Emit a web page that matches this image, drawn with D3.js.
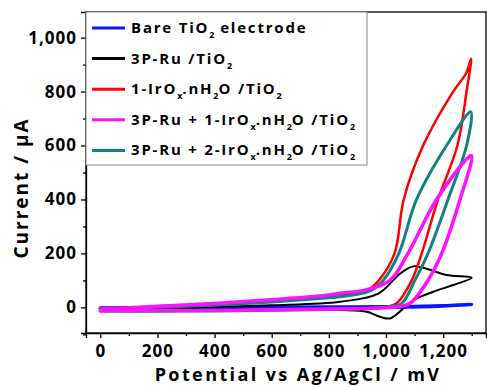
<!DOCTYPE html>
<html>
<head>
<meta charset="utf-8">
<script src="https://cdn.jsdelivr.net/npm/d3@7"></script>
<style>
  body { margin: 0; background: #fff; }
  text { font-family: "Open Sans", sans-serif; font-weight: bold; }
</style>
</head>
<body>
<div id="chart"></div>
<script>
// cyclic voltammograms: [potential mV, current uA], forward scan then reverse
var bare = [[0,-2],[200,-1],[400,0],[600,0],[800,1],[1000,2],[1100,3],[1200,6],[1300,11],
  [1200,5],[1000,0],[800,-1],[600,-2],[400,-3],[200,-3],[0,-3]];
var ru = [[0,-5],[200,-3],[400,2],[600,8],[840,21],[973,51],[1049,125],[1095,152],[1142,143],
  [1212,120],[1300,110],
  [1236,83],[1166,58],[1096,27],[1061,-4],[1014,-41],[979,-35],[933,-16],[840,-10],
  [600,-9],[400,-8],[200,-8],[0,-8]];
var irox1 = [[0,-12],[200,-12],[400,-11],[600,-9],[800,-6],[950,-3],[1000,2],[1037,15],[1090,100],
  [1125,200],[1182,400],[1250,600],[1282,800],[1298,922],
  [1280,867],[1235,800],[1130,600],[1062,400],[1030,200],[975,100],[935,63],[880,50],
  [800,42],[600,25],[400,12],[200,2],[0,-6]];
var ruIrox2 = [[0,-14],[200,-14],[400,-13],[600,-11],[800,-8],[950,-4],[1010,2],[1055,15],[1101,100],
  [1147,200],[1217,400],[1282,600],[1297,725],
  [1212,600],[1107,400],[1045,200],[990,100],[942,60],[840,39],[800,36],
  [600,20],[400,8],[200,0],[0,-8]];
var ruIrox1 = [[0,-12],[200,-12],[400,-11],[600,-9],[800,-6],[950,-3],[1040,2],[1084,15],[1147,100],
  [1195,200],[1259,400],[1299,563],
  [1177,400],[1077,200],[1014,100],[930,65],[840,52],[800,46],
  [600,28],[400,14],[200,4],[0,-6]];

var xTicks = [0, 200, 400, 600, 800, 1000, 1200];
var yTicks = [0, 200, 400, 600, 800, 1000];

// legend labels, split into [text, isSubscript] parts
var labels = [
  [["Bare TiO",0],["2",1],[" electrode",0]],
  [["3P-Ru /TiO",0],["2",1]],
  [["1-IrO",0],["x",1],[".nH",0],["2",1],["O /TiO",0],["2",1]],
  [["3P-Ru + 1-IrO",0],["x",1],[".nH",0],["2",1],["O /TiO",0],["2",1]],
  [["3P-Ru + 2-IrO",0],["x",1],[".nH",0],["2",1],["O /TiO",0],["2",1]]
];
var legendColors = ["#0a14ff", "#000000", "#ff0000", "#ff10ff", "#118282"];

var series = [
  {data: bare, color: "#0a14ff", w: 3.5},
  {data: ru, color: "#000000", w: 2},
  {data: irox1, color: "#ff0000", w: 2.5},
  {data: ruIrox2, color: "#118282", w: 3},
  {data: ruIrox1, color: "#ff10ff", w: 3.5}
];

var W = 487, H = 387;
var m = {left: 86, right: 486, top: 12, bottom: 333};

var x = d3.scaleLinear().domain([-50, 1350]).range([m.left, m.right]);
var y = d3.scaleLinear().domain([-95, 1095]).range([m.bottom, m.top]);

var svg = d3.select("#chart").append("svg")
    .attr("width", W)
    .attr("height", H);

var line = d3.line()
    .x(function(d) { return x(d[0]); })
    .y(function(d) { return y(d[1]); })
    .curve(d3.curveCatmullRom.alpha(0.5));

series.forEach(function(s) {
  svg.append("path")
    .datum(s.data)
    .attr("d", line)
    .attr("fill", "none")
    .attr("stroke", s.color)
    .attr("stroke-width", s.w)
    .attr("stroke-linejoin", "round")
    .attr("stroke-linecap", "round");
});

// frame
svg.append("rect")
  .attr("x", m.left).attr("y", m.top)
  .attr("width", m.right - m.left).attr("height", m.bottom - m.top)
  .attr("fill", "none").attr("stroke", "#000").attr("stroke-width", 1.3);

// x axis, major + minor ticks
var xAxis = svg.append("g")
    .attr("transform", "translate(0," + m.bottom + ")")
    .call(d3.axisBottom(x).tickValues(xTicks).tickSize(5).tickFormat(d3.format(",")));
svg.append("g")
    .attr("transform", "translate(0," + m.bottom + ")")
    .call(d3.axisBottom(x).tickValues(d3.range(100, 1400, 200)).tickSize(3).tickFormat(""))
    .select(".domain").remove();

// y axis
var yAxis = svg.append("g")
    .attr("transform", "translate(" + m.left + ",0)")
    .call(d3.axisLeft(y).tickValues(yTicks).tickSize(5).tickFormat(d3.format(",")));
svg.append("g")
    .attr("transform", "translate(" + m.left + ",0)")
    .call(d3.axisLeft(y).tickValues(d3.range(-100, 1100, 200)).tickSize(3).tickFormat(""))
    .select(".domain").remove();

svg.selectAll(".tick line").attr("stroke-width", 1.3);
svg.selectAll(".domain").attr("stroke-width", 1.3);

xAxis.selectAll("text")
    .attr("y", 9)
    .attr("dy", "0.9em")
    .style("font-size", "17px")
    .style("letter-spacing", "1px");
yAxis.selectAll("text")
    .attr("x", -9)
    .style("font-size", "17px")
    .style("letter-spacing", "1px");

svg.append("text")
    .attr("x", 298).attr("y", 381)
    .attr("text-anchor", "middle")
    .style("font-size", "18px")
    .style("letter-spacing", "2.4px")
    .text("Potential vs Ag/AgCl / mV");

svg.append("text")
    .attr("transform", "translate(28,188) rotate(-90)")
    .attr("text-anchor", "middle")
    .style("font-size", "19px")
    .style("letter-spacing", "2px")
    .text("Current / \u03bcA");

// legend
var lg = svg.append("g");
lg.append("rect")
  .attr("x", m.left).attr("y", m.top)
  .attr("width", 281).attr("height", 153)
  .attr("fill", "#fff").attr("stroke", "#888").attr("stroke-width", 1);

labels.forEach(function(parts, i) {
  var yy = 28 + i * 30.6;
  lg.append("line")
    .attr("x1", 92).attr("x2", 125)
    .attr("y1", yy).attr("y2", yy)
    .attr("stroke", legendColors[i]).attr("stroke-width", 3);
  var t = lg.append("text")
    .attr("x", 131).attr("y", yy + 5)
    .style("font-size", "15px")
    .style("letter-spacing", "1.8px");
  var prevSub = false;
  parts.forEach(function(p) {
    var ts = t.append("tspan").text(p[0]);
    if (p[1]) {
      ts.attr("dy", 5).style("font-size", "9px").style("letter-spacing", "0px");
    } else if (prevSub) {
      ts.attr("dy", -5);
    }
    prevSub = !!p[1];
  });
});
</script>
</body>
</html>
